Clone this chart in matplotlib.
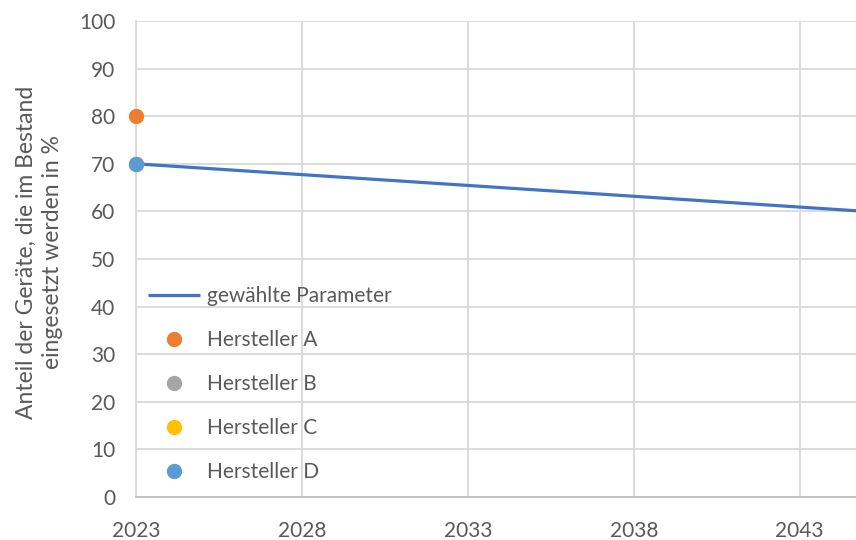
import matplotlib.pyplot as plt

plt.rcParams['font.family'] = ['Lato', 'DejaVu Sans']

# gewählte Parameter: Anteil im Bestand, linear fallend
years = [2023, 2045]
share = [70, 60]

# Herstellerangaben für 2023
makers = ['Hersteller A', 'Hersteller B', 'Hersteller C', 'Hersteller D']
maker_year = [2023, 2023, 2023, 2023]
maker_share = [80, 70, 70, 70]
maker_colors = ['#ED7D31', '#A5A5A5', '#FFC000', '#5B9BD5']

xticks = [2023, 2028, 2033, 2038, 2043]
yticks = list(range(0, 101, 10))

txt = '#595959'
grid = '#D9D9D9'

fig = plt.figure(figsize=(8.56, 5.40), dpi=100)
ax = fig.add_axes([136/856, 1 - 497/540, (866 - 136)/856, (497 - 21)/540])

ax.plot(years, share, color='#4472C4', lw=2.3, label='gewählte Parameter',
        solid_capstyle='butt', zorder=3, clip_on=False)
for x, y, c, n in zip(maker_year, maker_share, maker_colors, makers):
    ax.plot([x], [y], 'o', color=c, ms=10, label=n, zorder=4, clip_on=False)

ax.set_xlim(2023, 2045)
ax.set_ylim(0, 100)
ax.set_xticks(xticks)
ax.set_yticks(yticks)
ax.grid(True, color=grid, lw=1.3)
ax.set_axisbelow(True)
for s in ['top', 'right']:
    ax.spines[s].set_visible(False)
ax.spines['left'].set_color(grid)
ax.spines['left'].set_linewidth(1.3)
ax.spines['bottom'].set_color('#BFBFBF')
ax.spines['bottom'].set_linewidth(1.3)
ax.tick_params(axis='both', length=0, labelsize=15, labelcolor=txt)
ax.tick_params(axis='x', pad=17)
ax.tick_params(axis='y', pad=15)

fig.text(0.046, 1 - 252/540, 'Anteil der Geräte, die im Bestand\neingesetzt werden in %',
         rotation=90, ha='center', va='center', fontsize=16.5, color=txt,
         linespacing=1.3)

leg = ax.legend(loc='upper left', bbox_to_anchor=(148/856, 1 - 286/540),
                bbox_transform=fig.transFigure, frameon=False, fontsize=15,
                handlelength=2.5, handletextpad=0.35, labelspacing=1.15,
                borderpad=0, borderaxespad=0)
for t in leg.get_texts():
    t.set_color(txt)

fig.savefig('out.png', dpi=100)
